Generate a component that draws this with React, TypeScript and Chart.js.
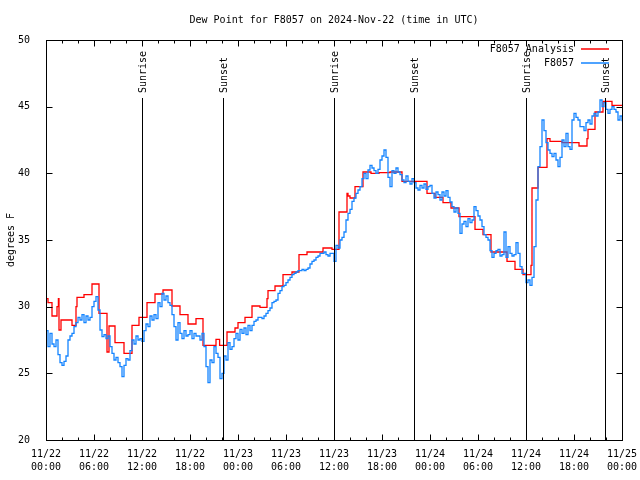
import React, { useEffect, useRef } from "react";
import { Chart, registerables } from "chart.js";

Chart.register(...registerables);

const FONT = "'DejaVu Sans Mono', monospace";
const TITLE = "Dew Point for F8057 on 2024-Nov-22 (time in UTC)";
const Y_TITLE = "degrees F";
const DAY_LABELS = ["11/22", "11/23", "11/24", "11/25"];
const X_MIN = 0; // hours since 11/22 00:00 UTC
const X_MAX = 72;
const X_MAJOR_STEP = 6;
const X_MINOR_STEP = 2;
const Y_MIN = 20;
const Y_MAX = 50;
const Y_STEP = 5;

const SUNRISE_HOURS = [12.0, 36.0, 60.0];
const SUNSET_HOURS = [22.1, 46.0, 69.9];

const ANALYSIS_LABEL = "F8057 Analysis";
const ANALYSIS_HOURS = [
  0, 0.25, 0.75, 1.375, 1.55, 1.625, 1.875, 3.25, 3.75, 3.875, 4.75, 5.75, 6.625, 7.625, 7.875,
  8.625, 9.75, 10.75, 11.625, 12.625, 13.625, 14.625, 15.75, 16.75, 17.75, 18.75, 19.625, 21.25,
  21.7, 22.625, 23.625, 24.0, 24.875, 25.75, 26.75, 27.625, 27.75, 28.625, 29.625, 30.75, 31.625,
  32.625, 34.625, 35.75, 36.625, 37.625, 37.75, 38.0, 38.625, 39.625, 40.625, 41.625, 43.0, 44.5,
  47.625, 48.625, 49.625, 50.625, 51.625, 53.625, 54.625, 55.625, 57.625, 58.625, 59.625, 60.625,
  60.75, 61.5, 62.625, 63.0, 64.5, 66.625, 67.625, 67.75, 68.625, 69.625, 70.75, 72,
];
const ANALYSIS_VALUES = [
  30.6, 30.3, 29.3, 30.0, 30.6, 28.25, 29.0, 28.6, 30.0, 30.7, 30.9, 31.7, 29.5, 26.6, 28.55,
  27.3, 26.5, 28.6, 29.2, 30.3, 30.95, 31.25, 30.05, 29.4, 28.7, 29.1, 27.1, 27.55,
  27.1, 28.1, 28.4, 28.8, 29.2, 30.05, 29.95, 30.6, 31.2, 31.55, 32.4, 32.6, 33.9,
  34.1, 34.4, 34.3, 37.1, 38.5, 38.3, 38.15, 39.0, 40.1, 40.0, 40.05, 40.1, 39.4,
  38.5, 38.2, 37.8, 37.4, 36.75, 35.8, 35.4, 34.1, 33.4, 32.8, 32.4, 33.1,
  38.9, 40.45, 42.6, 42.4, 42.3, 42.05, 42.6, 43.3, 44.6, 45.4, 45.1, 45.1,
];

const OBS_LABEL = "F8057";
const OBS_STEP_HOURS = 0.25; // one reading every 15 minutes, starting 11/22 00:00
const OBS_VALUES = [
  28.2, 27.0, 28.0, 27.2, 27.0, 27.5, 26.4, 25.8, 25.6, 25.9, 26.3, 27.5,
  27.8, 28.0, 28.5, 28.8, 29.2, 29.0, 29.4, 28.8, 29.3, 29.0, 29.2, 30.0,
  30.4, 30.75, 29.75, 28.25, 27.75, 27.9, 27.6, 27.8, 27.0, 26.5, 26.0, 26.2,
  25.8, 25.5, 24.75, 25.6, 26.1, 26.0, 26.7, 27.5, 27.2, 27.8, 27.5, 27.6,
  27.4, 28.2, 28.7, 28.5, 29.3, 29.0, 29.4, 29.1, 30.3, 30.0, 31.0, 30.5,
  30.8, 30.3, 30.1, 29.4, 28.5, 27.5, 28.8, 28.0, 27.6, 28.2, 27.8, 27.9,
  28.2, 27.6, 28.0, 27.8, 27.8, 27.5, 28.0, 27.0, 25.5, 24.3, 26.0, 25.8,
  27.0, 26.5, 26.2, 24.6, 25.0, 26.3, 26.0, 27.3, 26.8, 27.0, 27.6, 28.0,
  27.5, 28.3, 28.0, 28.4, 27.9, 28.6, 28.2, 28.6, 28.9, 29.0, 29.2, 29.2,
  29.1, 29.3, 29.5, 29.7, 29.9, 30.3, 30.4, 30.5, 31.0, 31.2, 31.5, 31.6,
  31.8, 32.0, 32.2, 32.4, 32.5, 32.6, 32.7, 32.7, 32.8, 32.7, 32.8, 32.9,
  33.2, 33.4, 33.5, 33.7, 33.8, 34.0, 34.0, 34.1, 33.9, 33.8, 34.0, 34.0,
  33.4, 34.6, 34.4, 35.0, 35.2, 35.6, 36.5, 37.0, 37.3, 37.9, 38.15, 38.5,
  38.75, 39.0, 39.6, 40.0, 39.6, 40.25, 40.6, 40.4, 40.2, 40.0, 40.3, 41.0,
  41.3, 41.75, 41.2, 39.7, 39.0, 40.2, 40.0, 40.4, 40.1, 39.9, 39.5, 39.3,
  39.8, 39.4, 39.2, 39.6, 39.3, 38.9, 38.75, 39.1, 38.9, 39.2, 38.8, 39.0,
  39.1, 38.5, 38.15, 38.6, 38.4, 38.0, 38.6, 38.3, 38.7, 38.2, 37.85, 37.5,
  37.1, 37.4, 37.0, 35.5, 36.2, 36.4, 36.0, 36.6, 36.3, 36.5, 37.5, 37.2,
  36.8, 36.5, 36.0, 35.4, 35.2, 35.0, 34.2, 33.7, 34.0, 34.2, 34.3, 33.8,
  33.9, 35.6, 33.7, 34.5, 34.0, 33.8, 33.9, 34.8, 34.0, 33.0, 32.5, 32.5,
  31.8, 32.0, 31.6, 32.2, 34.5, 38.0, 40.5, 42.0, 44.0, 43.2, 42.3, 41.75,
  41.5, 41.25, 41.5, 41.0, 40.5, 41.2, 42.5, 42.0, 43.0, 42.0, 41.8, 44.0,
  44.5, 44.2, 44.0, 43.5, 43.5, 43.2, 43.8, 44.0, 43.7, 44.3, 44.5, 44.3,
  44.6, 45.5, 45.0, 45.3, 44.8, 44.5, 44.8, 45.0, 44.8, 44.6, 44.0, 44.3,
  43.9,
];

const RED = "#ff0000";
const BLUE = "#1484ff";

function pad2(n: number) {
  return (n < 10 ? "0" : "") + n;
}

const gnuplotDecor = {
  id: "gnuplotDecor",
  afterDatasetsDraw(chart: any) {
    const { ctx, chartArea: a, scales } = chart;
    const xs = scales.x;
    const ys = scales.y;
    const L = Math.round(a.left) + 0.5;
    const R = Math.round(a.right) + 0.5;
    const T = Math.round(a.top) + 0.5;
    const B = Math.round(a.bottom) + 0.5;
    ctx.save();
    ctx.strokeStyle = "#000";
    ctx.lineWidth = 1;
    const seg = (x1: number, y1: number, x2: number, y2: number) => {
      ctx.beginPath();
      ctx.moveTo(x1, y1);
      ctx.lineTo(x2, y2);
      ctx.stroke();
    };
    // border
    ctx.strokeRect(L, T, R - L, B - T);
    // x ticks (inward, mirrored)
    for (let h = X_MIN; h <= X_MAX; h += X_MINOR_STEP) {
      const px = Math.round(xs.getPixelForValue(h)) + 0.5;
      const len = h % X_MAJOR_STEP === 0 ? 6 : 3;
      seg(px, B, px, B - len);
      seg(px, T, px, T + len);
    }
    // y ticks
    for (let v = Y_MIN; v <= Y_MAX; v += Y_STEP) {
      const py = Math.round(ys.getPixelForValue(v)) + 0.5;
      seg(L, py, L + 6, py);
      seg(R, py, R - 6, py);
    }
    // sunrise / sunset markers
    ctx.font = `10px ${FONT}`;
    ctx.fillStyle = "#000";
    const marks: [number, string][] = [
      ...SUNRISE_HOURS.map((h) => [h, "Sunrise"] as [number, string]),
      ...SUNSET_HOURS.map((h) => [h, "Sunset"] as [number, string]),
    ];
    for (const [h, label] of marks) {
      const px = Math.round(xs.getPixelForValue(h)) + 0.5;
      seg(px, a.top + 58, px, B);
      ctx.save();
      ctx.translate(px + 0.5, a.top + 53);
      ctx.rotate(-Math.PI / 2);
      ctx.textAlign = "left";
      ctx.textBaseline = "middle";
      ctx.fillText(label, 0, 0);
      ctx.restore();
    }
    // legend
    const items: [string, string][] = [
      [ANALYSIS_LABEL, RED],
      [OBS_LABEL, BLUE],
    ];
    items.forEach(([label, color], i) => {
      const y = Math.round(a.top + 9 + i * 14);
      ctx.fillStyle = "#000";
      ctx.textAlign = "right";
      ctx.textBaseline = "middle";
      ctx.fillText(label, a.right - 48, y);
      ctx.save();
      ctx.strokeStyle = color;
      ctx.lineWidth = 1.5;
      ctx.beginPath();
      ctx.moveTo(a.right - 41, y);
      ctx.lineTo(a.right - 13, y);
      ctx.stroke();
      ctx.restore();
    });
    ctx.restore();
  },
};

export default function App() {
  const canvasRef = useRef<HTMLCanvasElement | null>(null);

  useEffect(() => {
    const canvas = canvasRef.current;
    if (!canvas) return;
    const font = { family: FONT, size: 10, lineHeight: 1.3 };
    const chart = new Chart(canvas, {
      type: "line",
      data: {
        datasets: [
          {
            label: OBS_LABEL,
            data: OBS_VALUES.map((v, i) => ({ x: i * OBS_STEP_HOURS, y: v })),
            borderColor: BLUE,
            borderWidth: 1.3,
            pointRadius: 0,
            stepped: "before",
            fill: false,
          },
          {
            label: ANALYSIS_LABEL,
            data: ANALYSIS_HOURS.map((h, i) => ({ x: h, y: ANALYSIS_VALUES[i] })),
            borderColor: RED,
            borderWidth: 1.3,
            pointRadius: 0,
            stepped: "before",
            fill: false,
          },
        ],
      },
      options: {
        animation: false,
        responsive: false,
        events: [],
        layout: { padding: { left: 0, right: 18, top: 0, bottom: 0 } },
        plugins: {
          legend: { display: false },
          tooltip: { enabled: false },
          title: {
            display: true,
            text: TITLE,
            color: "#000",
            fullSize: false,
            font: { family: FONT, size: 10, weight: "normal", lineHeight: 1.2 },
            padding: { top: 14, bottom: 14 },
          },
        },
        scales: {
          x: {
            type: "linear",
            min: X_MIN,
            max: X_MAX,
            grid: { display: false },
            border: { display: false },
            afterFit: (s: any) => {
              s.height = 40;
              s.paddingLeft = 0;
              s.paddingRight = 0;
            },
            ticks: {
              stepSize: X_MAJOR_STEP,
              autoSkip: false,
              maxRotation: 0,
              minRotation: 0,
              padding: 0,
              color: "#000",
              font,
              callback: (value: any) => {
                const v = Number(value);
                const day = Math.floor(v / 24);
                const hour = v - day * 24;
                return [DAY_LABELS[day], `${pad2(hour)}:00`];
              },
            },
          },
          y: {
            type: "linear",
            min: Y_MIN,
            max: Y_MAX,
            grid: { display: false },
            border: { display: false },
            afterFit: (s: any) => {
              s.width = 46;
              s.paddingTop = 0;
              s.paddingBottom = 0;
            },
            ticks: {
              stepSize: Y_STEP,
              padding: 8,
              color: "#000",
              font,
            },
            title: {
              display: true,
              text: Y_TITLE,
              color: "#000",
              font: { family: FONT, size: 10, lineHeight: 1.2 },
              padding: { top: 5, bottom: 0 },
            },
          },
        },
      },
      plugins: [gnuplotDecor],
    } as any);
    return () => chart.destroy();
  }, []);

  return (
    <div style={{ position: "fixed", left: 0, top: 0, width: 640, height: 480, background: "#fff" }}>
      <canvas ref={canvasRef} width={640} height={480} style={{ display: "block" }} />
    </div>
  );
}
